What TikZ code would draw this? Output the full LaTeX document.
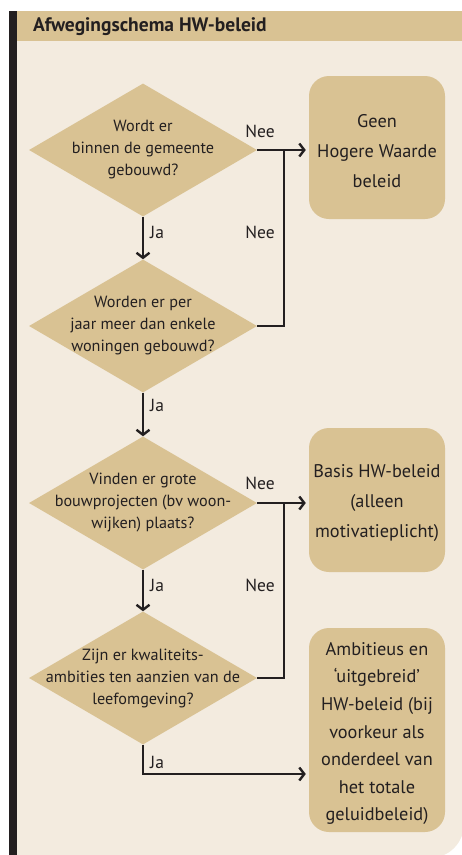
\documentclass[tikz,border=0pt]{standalone}
\usepackage{fontspec}
\setmainfont{PT Sans}
\usetikzlibrary{shapes.geometric,arrows.meta}
\definecolor{tan}{HTML}{D9C293}
\definecolor{paper}{HTML}{F3EBDF}
\definecolor{ink}{HTML}{231F20}
\begin{document}
\begin{tikzpicture}[x=1pt,y=-1pt,
  dia/.style={diamond,fill=tan,minimum width=228pt,minimum height=133pt,inner sep=0pt,aspect=1.7},
  dtext/.style={align=center,text=ink,font=\fontsize{16.2}{22}\selectfont},
  res/.style={rounded corners=20pt,fill=tan,minimum width=136pt,inner sep=0pt},
  rtext/.style={text=ink,align=center,inner sep=0pt,yshift=-3.5pt,font=\fontsize{18.3}{30}\selectfont},
  lbl/.style={text=ink,font=\fontsize{17.5}{18}\selectfont,inner sep=0pt},
  conn/.style={draw=ink,line width=2.4pt},
  arr/.style={conn,-{Straight Barb[length=5pt,width=13pt,line width=2.4pt]}}]
\useasboundingbox (0,0) rectangle (462,855);
% panel and header
\fill[paper] (17,41) -- (464,41) [rounded corners=34pt]-- (464,858) [sharp corners]-- (17,858) -- cycle;
\fill[tan] (17,11) rectangle (462,41);
\fill[ink] (9,11) rectangle (17,858);
\node[anchor=west,text=ink,font=\fontsize{19.5}{22}\selectfont\bfseries,inner sep=0pt] (title) at (33,26.5) {Afwegingschema HW-beleid};
% diamonds
\node[dia] (d1) at (143,150) {};
\node[dtext] (t1) at (d1) {Wordt er\\binnen de gemeente\\gebouwd?};
\node[dia] (d2) at (143,326) {};
\node[dtext] (t2) at (d2) {Worden er per\\jaar meer dan enkele\\woningen gebouwd?};
\node[dia] (d3) at (143,503) {};
\node[dtext] (t3) at (d3) {Vinden er grote\\bouwprojecten (bv woon-\\wijken) plaats?};
\node[dia] (d4) at (143,678) {};
\node[dtext] (t4) at (d4) {Zijn er kwaliteits-\\ambities ten aanzien van de\\leefomgeving?};
% results
\node[res,minimum height=143pt] (b1) at (377,147.5) {};
\node[rtext] (r1) at (b1) {Geen\\Hogere Waarde\\beleid};
\node[res,minimum height=144pt] (b2) at (377,500) {};
\node[rtext] (r2) at (b2) {Basis HW-beleid\\(alleen\\motivatieplicht)};
\node[res,minimum height=204pt] (b3) at (377,730) {};
\node[rtext,font=\fontsize{18.3}{27.6}\selectfont] (r3) at (b3) {Ambitieus en\\‘uitgebreid’\\HW-beleid (bij\\voorkeur als\\onderdeel van\\het totale\\geluidbeleid)};
% junctions
\coordinate (j1) at (284,150);
\coordinate (j3) at (284,503);
\coordinate (c4) at (143,774);
% connectors
\draw[arr,shorten >=3pt] (d1.east) -- (d1.east -| b1.west);
\draw[conn] (d2.east) -| (j1);
\draw[arr] (d1.south) -- (d2.north);
\draw[arr] (d2.south) -- (d3.north);
\draw[arr,shorten >=3pt] (d3.east) -- (d3.east -| b2.west);
\draw[conn] (d4.east) -| (j3);
\draw[arr] (d3.south) -- (d4.north);
\draw[arr,shorten >=3pt] (d4.south) -- (c4) -- (c4 -| b3.west);
% labels
\node[lbl] (n1) at (260,131) {Nee};
\node[lbl] (n2) at (260,232) {Nee};
\node[lbl,anchor=west] (ja1) at (150,232) {Ja};
\node[lbl,anchor=west] (ja2) at (150,405) {Ja};
\node[lbl] (n3) at (260,483) {Nee};
\node[lbl,anchor=west] (ja3) at (150,585) {Ja};
\node[lbl] (n4) at (260,585) {Nee};
\node[lbl,anchor=west] (ja4) at (150,762) {Ja};
\end{tikzpicture}
\end{document}
